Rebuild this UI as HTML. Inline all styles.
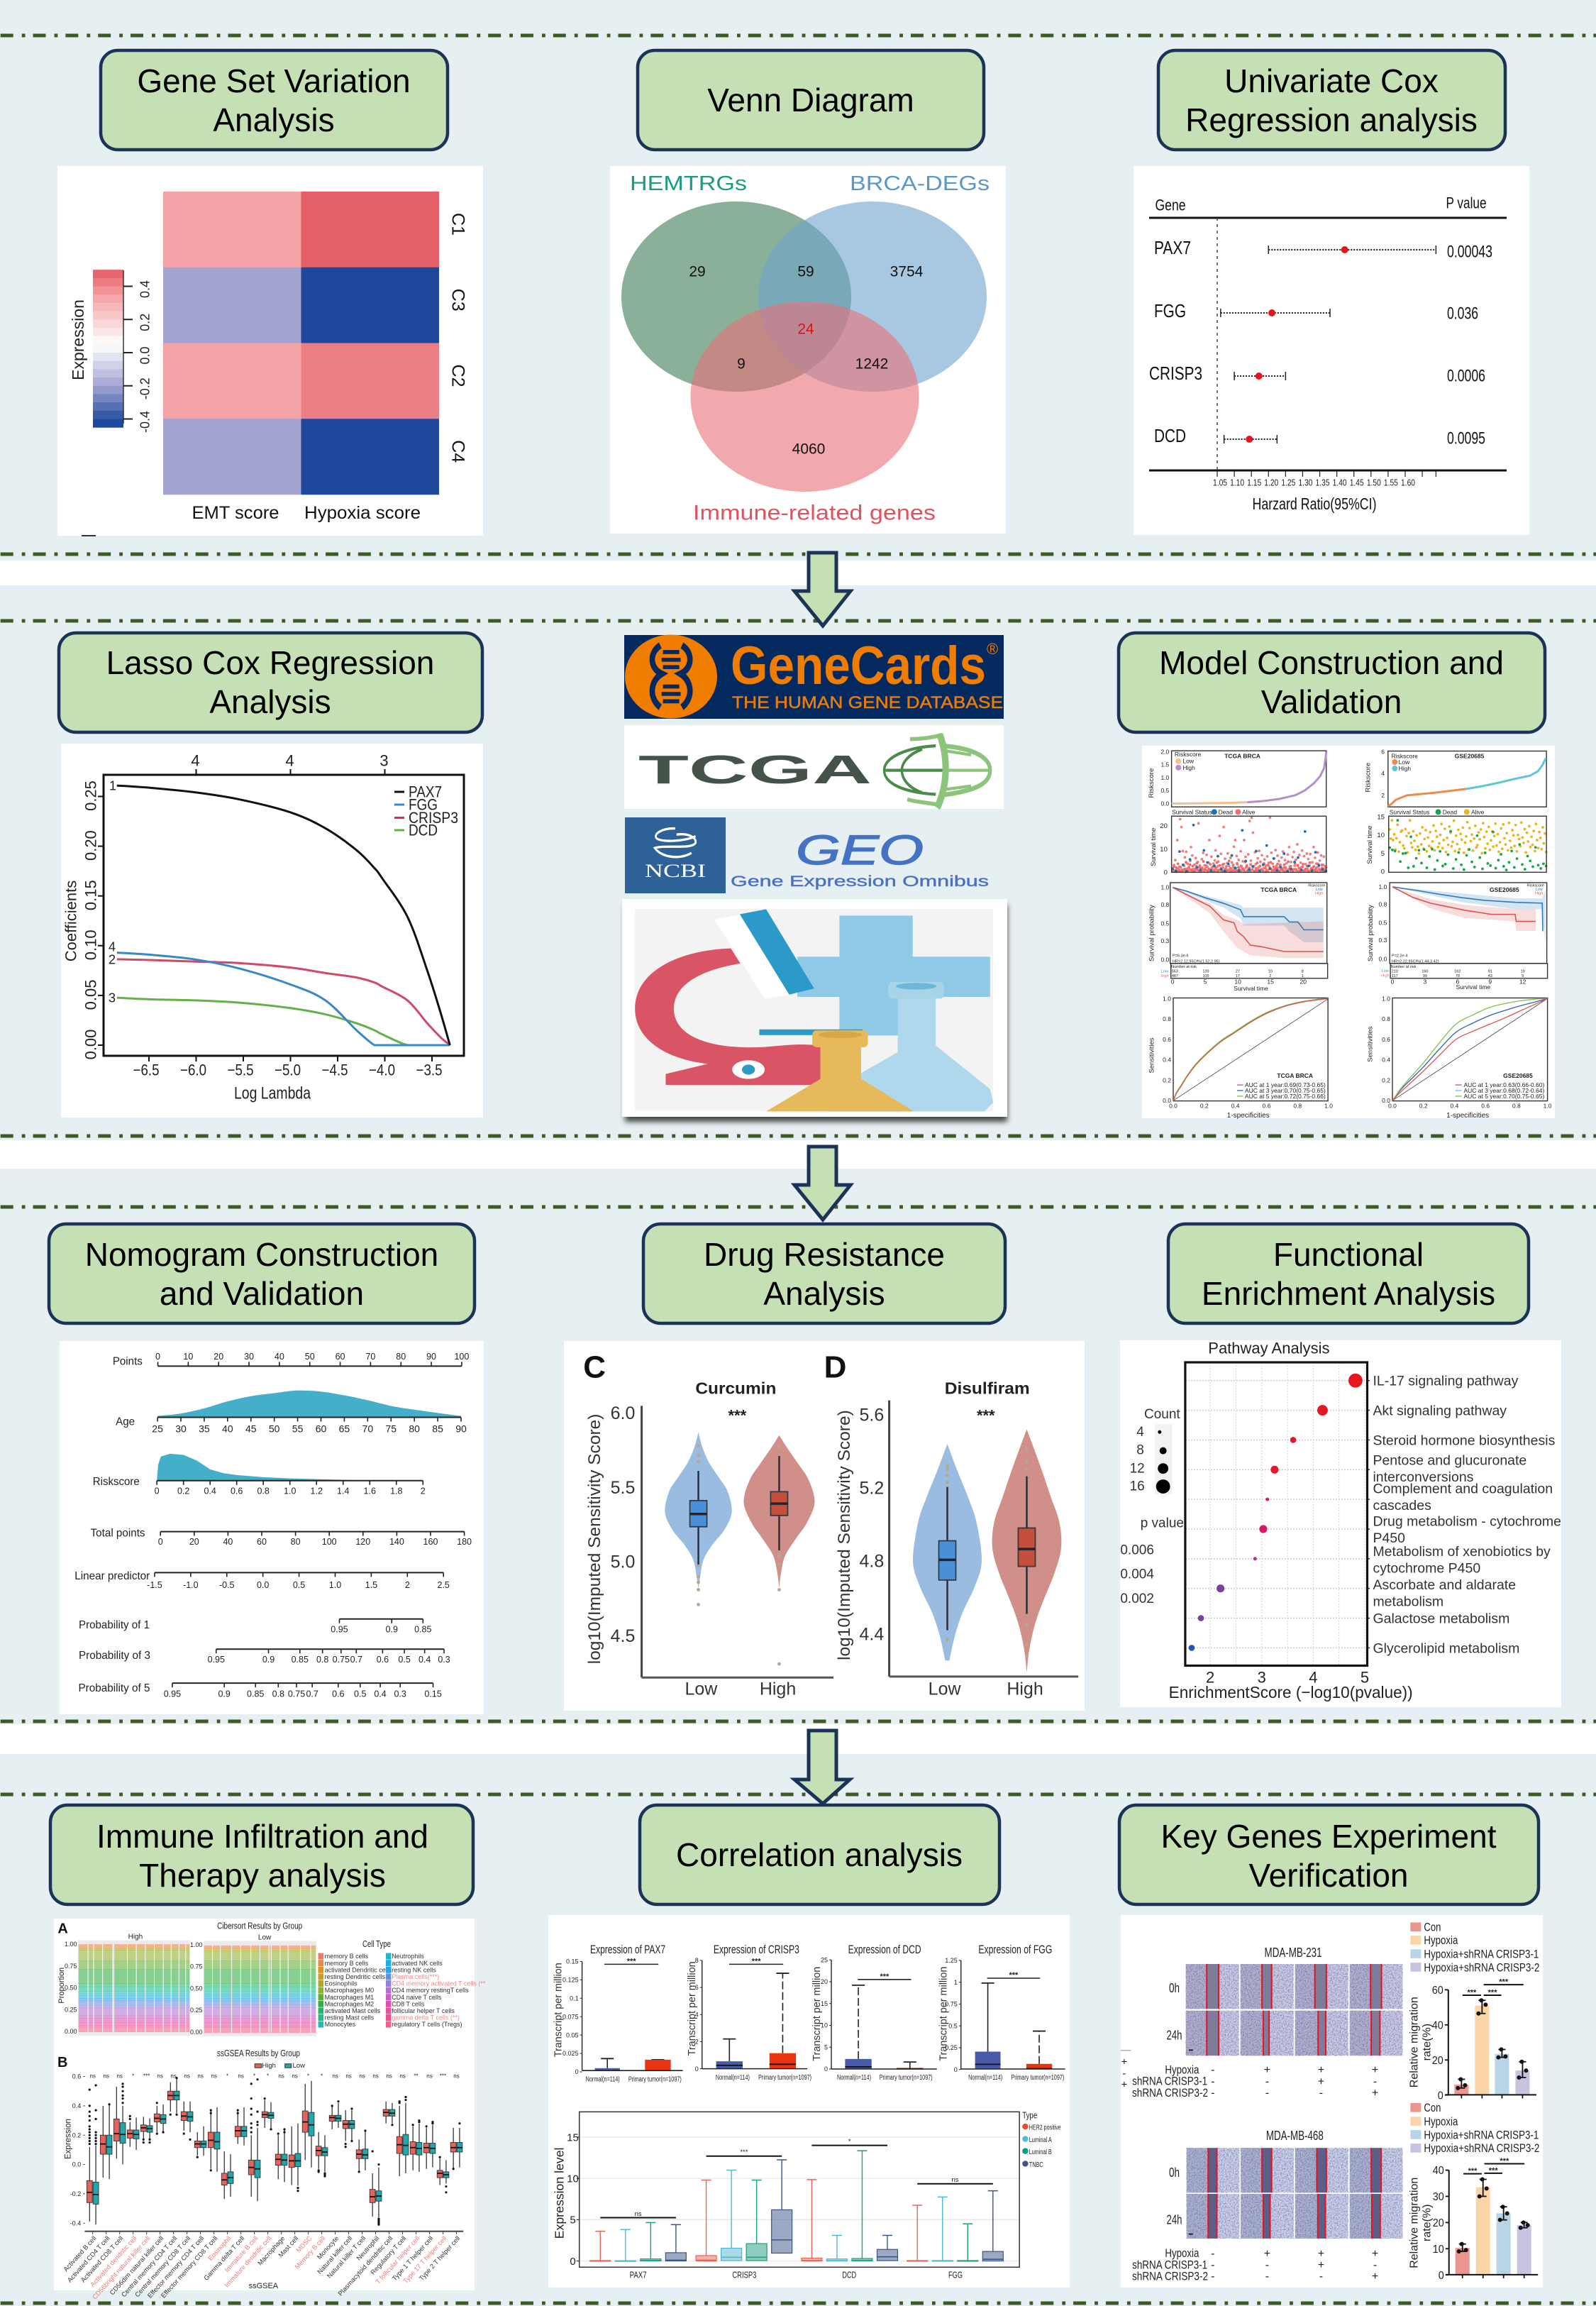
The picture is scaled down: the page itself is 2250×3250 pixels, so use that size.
<!DOCTYPE html>
<html lang="en">
<head>
<meta charset="utf-8">
<title>Study workflow figure</title>
<style>
html,body{margin:0;padding:0;background:#fff;width:2250px;height:3250px;overflow:hidden}
svg{display:block;font-family:"Liberation Sans",sans-serif}
.box{fill:#c5e0b4;stroke:#1b3358;stroke-width:4.5}
.ttl{font-size:46px;text-anchor:middle;fill:#000}
.arrow{fill:#c5e0b4;stroke:#1b3358;stroke-width:5;stroke-linejoin:miter}
.dash{stroke:#3e5a24;stroke-width:5;stroke-dasharray:18 12 4.83 11;stroke-dashoffset:-0.7}
.panel{fill:#fff}
</style>
</head>
<body>
<svg id="figure" xmlns="http://www.w3.org/2000/svg" width="2250" height="3250" viewBox="0 0 2250 3250">
<defs>
<filter id="cells" x="0" y="0" width="1" height="1" color-interpolation-filters="sRGB"><feTurbulence type="fractalNoise" baseFrequency="0.55" numOctaves="2" seed="4"/><feColorMatrix type="matrix" values="0 0 0 0 0.3 0 0 0 0 0.28 0 0 0 0 0.5 1.3 0 0 0 -0.5"/></filter>
<filter id="soft" x="-10%" y="-10%" width="120%" height="120%"><feGaussianBlur stdDeviation="4"/></filter>
</defs>
<rect x="0" y="0" width="2250" height="790" fill="#e6f0f2"/>
<rect x="0" y="825" width="2250" height="782" fill="#e6f0f2"/>
<rect x="0" y="1647" width="2250" height="783" fill="#e6f0f2"/>
<rect x="0" y="2472" width="2250" height="778" fill="#e6f0f2"/>
<line class="dash" x1="0" x2="2250" y1="50" y2="50"/>
<line class="dash" x1="0" x2="2250" y1="781" y2="781"/>
<line class="dash" x1="0" x2="2250" y1="875" y2="875"/>
<line class="dash" x1="0" x2="2250" y1="1601" y2="1601"/>
<line class="dash" x1="0" x2="2250" y1="1701" y2="1701"/>
<line class="dash" x1="0" x2="2250" y1="2426" y2="2426"/>
<line class="dash" x1="0" x2="2250" y1="2529" y2="2529"/>
<line class="dash" x1="0" x2="2250" y1="3246" y2="3246"/>

<path class="arrow" d="M1140 779H1179V833H1199L1160 882L1120 833H1140Z"/>
<path class="arrow" d="M1140 1616H1179V1670H1199L1160 1719L1120 1670H1140Z"/>
<path class="arrow" d="M1140 2439H1179V2508H1198L1160 2542L1120 2508H1140Z"/>

<g><rect class="box" x="142" y="71" width="489" height="140" rx="24"/><text class="ttl" x="386" y="130">Gene Set Variation</text><text class="ttl" x="386" y="185">Analysis</text></g>
<g><rect class="box" x="899" y="71" width="488" height="140" rx="24"/><text class="ttl" x="1143" y="157">Venn Diagram</text></g>
<g><rect class="box" x="1633" y="71" width="489" height="140" rx="24"/><text class="ttl" x="1877" y="130">Univariate Cox</text><text class="ttl" x="1877" y="185">Regression analysis</text></g>
<g><rect class="box" x="83" y="892" width="597" height="140" rx="24"/><text class="ttl" x="381" y="950">Lasso Cox Regression</text><text class="ttl" x="381" y="1005">Analysis</text></g>
<g><rect class="box" x="1577" y="892" width="601" height="140" rx="24"/><text class="ttl" x="1877" y="950">Model Construction and</text><text class="ttl" x="1877" y="1005">Validation</text></g>
<g><rect class="box" x="69" y="1725" width="600" height="140" rx="24"/><text class="ttl" x="369" y="1784">Nomogram Construction</text><text class="ttl" x="369" y="1839">and Validation</text></g>
<g><rect class="box" x="907" y="1725" width="510" height="140" rx="24"/><text class="ttl" x="1162" y="1784">Drug Resistance</text><text class="ttl" x="1162" y="1839">Analysis</text></g>
<g><rect class="box" x="1647" y="1725" width="508" height="140" rx="24"/><text class="ttl" x="1901" y="1784">Functional</text><text class="ttl" x="1901" y="1839">Enrichment Analysis</text></g>
<g><rect class="box" x="71" y="2544" width="596" height="140" rx="24"/><text class="ttl" x="370" y="2604">Immune Infiltration and</text><text class="ttl" x="370" y="2659">Therapy analysis</text></g>
<g><rect class="box" x="902" y="2544" width="507" height="140" rx="24"/><text class="ttl" x="1155" y="2630">Correlation analysis</text></g>
<g><rect class="box" x="1578" y="2544" width="591" height="140" rx="24"/><text class="ttl" x="1873" y="2604">Key Genes Experiment</text><text class="ttl" x="1873" y="2659">Verification</text></g>

<rect class="panel" x="81" y="234" width="600" height="521"/>
<rect class="panel" x="860" y="234" width="558" height="518"/>
<rect class="panel" x="1598" y="234" width="558" height="520"/>
<rect class="panel" x="86" y="1048" width="595" height="527"/>
<rect class="panel" x="1610" y="1051" width="582" height="525"/>
<rect class="panel" x="84" y="1890" width="598" height="526"/>
<rect class="panel" x="795" y="1890" width="734" height="521"/>
<rect class="panel" x="1579" y="1889" width="622" height="517"/>
<rect class="panel" x="76" y="2704" width="593" height="524"/>
<rect class="panel" x="773" y="2699" width="735" height="525"/>
<rect class="panel" x="1580" y="2699" width="595" height="525"/>

<g>
<rect x="880" y="895" width="535" height="118" fill="#03295e"/>
<ellipse cx="946" cy="953.5" rx="65" ry="59" fill="#f07d00"/>
<g transform="translate(860,860) scale(.3827,.4719)" fill="none" stroke="#03295e" stroke-width="20">
<path d="M185 105C140 130 150 175 190 190C150 210 140 260 185 290"/><path d="M265 105C310 130 300 175 260 190C300 210 310 260 265 290"/>
<path stroke-width="12" d="M195 125H255M190 148H260M195 170H255M195 228H255M190 250H260M195 272H255"/></g>
<text x="1030" y="964" font-size="76" font-weight="bold" fill="#f07d00" textLength="360" lengthAdjust="spacingAndGlyphs">GeneCards</text>
<text x="1391" y="922" font-size="22" fill="#f07d00">®</text>
<text x="1032" y="998" font-size="24" fill="#e87c08" stroke="#e87c08" stroke-width=".5" textLength="382" lengthAdjust="spacingAndGlyphs">THE HUMAN GENE DATABASE</text>
</g>
<g>
<rect x="880" y="1022" width="535" height="118" fill="#fff"/>
<text x="900" y="1104" font-size="57" font-weight="bold" fill="#44524a" textLength="329" lengthAdjust="spacingAndGlyphs">TCGA</text>
<g transform="translate(860,860) scale(.3827,.4719)" fill="none" stroke="#4a8a4a" stroke-width="9">
<path d="M1200 405C1090 410 1010 440 1010 478C1010 520 1090 545 1200 550"/><path d="M1150 415C1100 430 1075 455 1075 478C1075 505 1100 530 1150 545"/><path d="M1015 478H1225"/>
<g stroke="#8cc47c"><path d="M1225 405C1340 412 1400 440 1400 478C1400 520 1340 540 1225 552" stroke-width="14"/><path d="M1215 372C1245 440 1245 520 1205 590" stroke-width="24"/><path d="M1105 385C1150 385 1190 380 1225 372M1095 565C1140 575 1180 575 1215 582" stroke-width="12"/><path d="M1225 478H1395M1235 420L1330 432M1235 535L1330 525"/></g></g>
</g>
<g>
<rect x="881" y="1152" width="142" height="107" fill="#2f6199"/>
<g transform="translate(860,860) scale(.3827,.4719)" fill="none" stroke="#fff" stroke-width="7"><path d="M240 652C200 650 160 665 170 680C185 695 280 690 315 675"/><path d="M245 670C290 665 320 680 315 695C300 715 205 700 165 710C190 740 260 745 300 725"/></g>
<text x="909" y="1236" font-size="26" font-family="Liberation Serif" fill="#fff" textLength="86" lengthAdjust="spacingAndGlyphs">NCBI</text>
<text x="1122" y="1218" font-size="58" font-style="italic" fill="#4472c4" stroke="#4472c4" stroke-width="1.4" textLength="180" lengthAdjust="spacingAndGlyphs">GEO</text>
<text x="1030" y="1249" font-size="21" fill="#4a70c4" stroke="#4a70c4" stroke-width=".4" textLength="364" lengthAdjust="spacingAndGlyphs">Gene Expression Omnibus</text>
</g>
<g>
<rect x="881" y="1275" width="539" height="306" fill="#444" filter="url(#soft)"/>
<rect x="877" y="1267" width="543" height="307" fill="#fff"/>
<rect x="895" y="1281" width="505" height="285" fill="#f3f3f3"/>
<g transform="translate(860,860) scale(.3827,.4719)">
<path fill="#8ecae6" d="M845 912H1115V1035H1400V1155H1115V1270H845V1155H690V1035H845Z"/>
<path fill="#fff" d="M385 925L478 908L660 1148L570 1160Z"/>
<path fill="#2b9ac8" d="M478 908L575 893L752 1130L660 1148Z"/>
<path fill="#d95566" d="M445 1010C250 1015 92 1080 92 1190C92 1280 200 1340 360 1355L205 1385V1418H775V1300C650 1290 600 1310 480 1305C330 1300 235 1260 235 1190C235 1120 330 1075 480 1055Z"/>
<ellipse cx="510" cy="1372" rx="60" ry="28" fill="#fff"/><ellipse cx="510" cy="1372" rx="24" ry="15" fill="#2b9ac8"/>
<rect x="550" y="1252" width="380" height="17" fill="#2b9ac8"/>
<path fill="#b0d8ec" d="M1060 1150H1200V1300L1400 1430L1412 1470L1380 1497H800L930 1380L1060 1320Z"/>
<rect x="1025" y="1110" width="205" height="50" rx="14" fill="#a8d4e8"/><ellipse cx="1128" cy="1123" rx="75" ry="10" fill="#6cb8d8"/>
<path fill="#e6b95a" d="M775 1300H925V1400L1120 1497H575L775 1400Z"/>
<rect x="745" y="1255" width="205" height="50" rx="14" fill="#e6b95a"/><ellipse cx="848" cy="1268" rx="80" ry="10" fill="#d8a848"/>
</g></g>

<g id="heatmap"></g>
<g id="venn"></g>
<g id="forest"></g>
<g id="lasso"></g>
<g id="model"></g>
<g id="nomogram"></g>
<g id="violins"></g>
<g id="pathway"></g>
<g id="immune"></g>
<g id="correlation"></g>
<g id="experiment"></g>
</svg>
<script>
/* ===== DATA ===== */
/* GSVA heatmap */
const hmRows=['C1','C3','C2','C4'];
const hmCols=['EMT score','Hypoxia score'];
const hmEmt=[.34,-.2,.34,-.2];
const hmHypoxia=[.49,-.42,.42,-.42];
const hmTicks=[.4,.2,0,-.2,-.4];
/* Venn */
const vennCounts=['29','59','3754','24','9','1242','4060'];
/* Forest */
const fpGenes=['PAX7','FGG','CRISP3','DCD'];
const fpHr=[1.423,1.21,1.172,1.144];
const fpLow=[1.2,1.06,1.1,1.07];
const fpHigh=[1.69,1.38,1.25,1.225];
const fpP=['0.00043','0.036','0.0006','0.0095'];
const fpTicks=[1.05,1.1,1.15,1.2,1.25,1.3,1.35,1.4,1.45,1.5,1.55,1.6];
/* Lasso */
const lassoLambda=[-6.84,-6.46,-6,-5.54,-5,-4.63,-4.3,-4.11,-4.03,-3.76,-3.55,-3.41,-3.31];
const lassoPax7=[.261,.2585,.254,.247,.234,.218,.196,.178,.168,.129,.075,.033,0];
const lassoFgg=[.093,.0907,.086,.077,.061,.045,.015,0,0,0,0,0,0];
const lassoCrisp3=[.0864,.0855,.084,.0825,.078,.0725,.068,.063,.059,.045,.022,.008,0];
const lassoDcd=[.0477,.046,.045,.0427,.0373,.031,.022,.015,.011,0,0,0,0];
const lassoXTicks=[-6.5,-6,-5.5,-5,-4.5,-4,-3.5];
const lassoYTicks=[0,.05,.1,.15,.2,.25];
/* Model: risk curves */
const riskTcgaFrac=[0,.2,.4,.49,.6,.7,.8,.86,.92,.96,.985,.995,1];
const riskTcgaScore=[0,.01,.03,.05,.1,.18,.32,.5,.78,1.05,1.35,1.7,2];
const riskGseFrac=[0,.02,.05,.12,.3,.5,.6,.7,.8,.9,.95,.98,1];
const riskGseScore=[1,1.2,1.6,2,2.25,2.6,2.85,3.15,3.5,3.8,4.2,4.8,5.4];
/* Model: survival status scatter */
const tcgaAlive=[1.2,0.4,3.1,0.8,5.2,2.1,0.3,13.8,1.6,0.7,2.4,22.8,0.5,19.4,1.1,9.1,0.9,2.8,6.4,0.2,8.8,1.5,3.6,0.6,2.2,1.0,4.9,10.8,0.3,7.2,1.4,0.8,3.3,0.5,6.1,2.6,1.2,4.4,21.0,0.7,2.9,1.8,0.4,5.6,1.1,8.3,0.6,3.0,1.7,0.9,7.5,2.3,0.5,4.1,13.8,1.3,0.8,6.7,2.0,0.3,3.7,1.0,5.1,9.4,1.6,0.6,2.5,4.6,0.9,15.6,1.2,7.9,0.4,3.2,2.1,19.4,0.7,5.8,1.5,0.5,3.9,8.1,1.0,2.7,0.6,6.2,1.4,4.2,0.8,2.2,11.0,0.4,13.8,1.7,7.0,3.4,0.7,5.3,1.2,0.5,9.0,2.4,0.9,4.7,1.6,13.8,0.3,6.6,2.0,3.0,0.8,7.7,1.3,22.0,0.6,5.0,23.4,1.1,17.0,2.6,0.4,8.6,3.5,1.4,0.7,6.0,2.1,9.2,0.5,4.5,1.2,7.3,0.9,3.1,1.8,5.5,0.3,2.9,1.0,6.8,0.6,4.0,2.3,23.5,1.5,8.4,0.8,3.6,1.1,5.9,0.4,9.5,2.7,0.7,7.1,1.9,4.8,0.5,3.3,1.3,6.3,0.9,8.9,2.0,0.6,5.2,1.6,3.8,0.3,7.6,1.2,10.8,2.5,0.8,4.4,1.0,6.5,0.4,8.7,2.8,1.4,5.4,0.7,12.0,3.0,0.6,7.4,1.7,4.1,0.9,9.3,2.3,0.5,6.9,1.1,3.5,0.8,8.0,1.5,5.7,0.3,2.9,7.8,1.0,0.6,4.3,2.1,10.8,0.9,6.2,1.3,3.7,0.5,8.5,2.4,1.1,5.0,0.7,7.2,1.8,0.4,3.2,6.7,1.2,2.6,0.6];
const tcgaAliveLow=[0.8,2.2,0.3,1.5,3.4,0.6,1.9,0.2,2.8,1.1,4.1,0.5,1.7,3.0,0.9,2.4,0.4,1.3,3.7,0.7,2.0,0.3,1.6,4.4,1.0,2.6,0.5,1.2,3.2,0.8,2.1,0.2,1.8,3.9,0.6,2.7,1.4,0.4,3.3,1.0,2.3,0.7,4.6,1.5,0.3,2.9,1.1,0.6,3.6,1.9,0.4,2.5,1.3,0.8,4.2,2.2,0.5,1.6,3.1,0.9,2.0,0.3,1.4,3.8,0.7,2.4,1.0,0.5,3.5,1.7,0.2,2.8,1.2,4.0,0.6,2.1,0.9,1.5,3.3,0.4,2.6,1.1,0.7,3.0,1.8,0.3,4.3,1.3,2.3,0.5,1.0,3.6,0.8,2.7,1.6,0.4,2.0,3.2,0.6,1.2,2.5,0.3,3.9,1.4,0.9,2.2,0.5,1.7,3.4,1.0,0.7,2.9,1.3,0.4,1.9];
const tcgaDead=[1.5,0.6,8.9,3.2,0.4,5.5,20.3,2.1,1.0,9.4,4.2,0.7,2.8,6.9,1.3,0.5,3.6,7.2,1.9,0.8,18.0,4.8,1.1,2.5,9.1,0.6,3.3,11.5,1.6,5.9,0.9,2.2,8.0,0.4,1.4,4.4,6.3,1.0,17.5,2.7,0.7,8.6,3.0,1.2,0.5];
const gseAlive=[11.5,9.0,14.0,8.6,10.2,6.0,9.1,12.8,5.4,8.0,10.9,11.2,7.1,6.3,11.6,9.7,5.2,10.5,14.0,7.8,6.6,11.0,8.4,5.9,9.9,6.8,4.9,10.4,7.4,12.1,6.2,8.9,11.3,5.5,9.3,7.0,10.8,6.5,8.2,12.6,5.8,11.1,9.5,6.7,7.7,10.0,13.0,6.4,8.6,11.7,5.3,9.2,7.3,12.3,10.6,6.9,8.1,13.9,5.6,9.8,7.5,11.4,6.1,10.3,8.7,12.0,5.1,7.9,9.6,13.5,6.0,11.9,8.3,10.1,5.7,9.0,12.5,6.6,7.2,10.7,8.8,11.5,5.0,13.2,9.4,6.3,10.9,7.6,12.2,5.9,8.5,11.0,6.8,9.7,13.1,7.1,10.2,5.4,8.0,11.8,6.2,12.9,9.1,7.4,10.5,5.8,13.3,8.4,6.5,11.3,9.9,7.0,12.7,5.5,10.0,8.9,6.9,13.4,9.3,7.8,11.6,5.2,10.6,8.2,12.4,6.7,9.5,7.3,11.1,5.6,13.0,8.6,6.4,10.8,9.2,6.1,12.1,7.7,10.4,5.3];
const gseDead=[6.5,5.9,5.6,14.0,2.7,4.9,5.0,1.0,9.5,1.4,3.6,5.8,2.3,6.0,1.0,4.1,6.1,0.5,3.0,5.5,1.5,2.0,4.6,11.0,0.8,3.3,5.2,1.8,0.5,4.4,6.0,2.6,1.2,9.8,3.8,0.7,5.1,2.2,1.6,10.8,0.9,3.1,4.7,1.4,0.4,2.5,5.6,1.1,3.5,7.4,1.9,0.6,4.2,2.9,1.3,6.6,1.7,0.8,2.1,1.5];
/* Model: Kaplan-Meier [time, survival] */
const kmTcgaLow=[[0,1],[2.1,.95],[5.2,.85],[7.8,.78],[10.4,.69],[10.9,.594],[17.1,.594],[17.9,.52],[19.2,.52],[20.1,.412],[23.1,.412]];
const kmTcgaHigh=[[0,1],[2.6,.88],[5.7,.74],[7.8,.55],[9.4,.51],[9.9,.39],[10.9,.315],[11.9,.2],[13.5,.18],[17.1,.11],[23.1,.11]];
const kmTcgaLowUp=[[0,1],[7.8,.82],[10.4,.76],[10.9,.72],[23.1,.72]];
const kmTcgaLowDn=[[0,1],[7.8,.72],[10.4,.57],[10.9,.47],[17.1,.47],[17.9,.39],[20.1,.24],[23.1,.24]];
const kmTcgaHighUp=[[0,1],[5.7,.78],[7.8,.62],[9.9,.55],[10.9,.49],[23.1,.53]];
const kmTcgaHighDn=[[0,1],[5.7,.64],[7.8,.39],[9.9,.16],[11.9,.06],[17.1,.02],[23.1,.02]];
const kmGseLow=[[0,1],[2.25,.95],[4.1,.903],[6.3,.852],[8.5,.813],[11.3,.786],[13.8,.774],[13.85,.385]];
const kmGseHigh=[[0,1],[1.9,.852],[3.5,.774],[6.6,.677],[9.1,.619],[11.3,.619],[11.4,.521],[13.2,.521]];
const kmGseLowUp=[[0,1],[6.3,.91],[11.3,.84],[13.8,.84],[14.1,.96]];
const kmGseLowDn=[[0,1],[6.3,.79],[11.3,.69],[13.8,.69],[14.1,.19]];
const kmGseHighUp=[[0,1],[3.5,.83],[6.6,.75],[11.3,.69],[13.2,.69]];
const kmGseHighDn=[[0,1],[3.5,.70],[6.6,.57],[11.3,.52],[11.4,.39],[13.2,.39]];
const kmTableTcga=[['563','139','27','10','8'],['487','105','17','2','1']];
const kmTableGse=[['210','160','162','91','19'],['117','99','78','43','9']];
/* Model: ROC */
const rocTcgaFpr=[0,.02,.05,.1,.17,.3,.39,.5,.61,.72,.83,.92,1];
const rocTcga1=[0,.07,.14,.26,.39,.57,.66,.77,.86,.925,.965,.985,1];
const rocTcga3=[0,.075,.145,.265,.395,.575,.665,.775,.865,.93,.97,.99,1];
const rocTcga5=[0,.08,.15,.27,.40,.58,.67,.78,.87,.93,.97,.99,1];
const rocGseFpr=[0,.05,.1,.2,.3,.41,.52,.63,.74,.84,.93,1];
const rocGse1=[0,.08,.15,.29,.44,.60,.68,.75,.82,.89,.95,1];
const rocGse3=[0,.1,.18,.33,.5,.67,.76,.835,.89,.935,.97,1];
const rocGse5=[0,.11,.2,.37,.56,.75,.84,.915,.955,.98,.995,1];
const rocAucTcga=['AUC at 1 year:0.69(0.73-0.65)','AUC at 3 year:0.70(0.75-0.65)','AUC at 5 year:0.72(0.75-0.66)'];
const rocAucGse=['AUC at 1 year:0.63(0.66-0.60)','AUC at 3 year:0.68(0.72-0.64)','AUC at 5 year:0.70(0.75-0.65)'];
/* Nomogram */
const nomoPoints=[0,10,20,30,40,50,60,70,80,90,100];
const nomoAge=[25,30,35,40,45,50,55,60,65,70,75,80,85,90];
const nomoAgeDensity=[.05,.14,.33,.59,.78,.89,.99,.95,.81,.63,.42,.28,.16,.05];
const nomoRiskTicks=[0,.2,.4,.6,.8,1,1.2,1.4,1.6,1.8,2];
const nomoRiskTickLabels=['0','0.2','0.4','0.6','0.8','1.0','1.2','1.4','1.6','1.8','2'];
const nomoRiskValues=[0,.01,.03,.1,.2,.3,.4,.5,.6,.8,1,1.2,1.4,1.6,2];
const nomoRiskDensity=[0,.6,.9,1,.96,.75,.42,.28,.21,.13,.085,.057,.03,.01,0];
const nomoTotal=[0,20,40,60,80,100,120,140,160,180];
const nomoLinear=[-1.5,-1,-.5,0,.5,1,1.5,2,2.5];
const nomoLinearLabels=['-1.5','-1.0','-0.5','0.0','0.5','1.0','1.5','2','2.5'];
const nomoProb1Points=[106,137,155.5];
const nomoProb1Labels=['0.95','0.9','0.85'];
const nomoProb3Points=[33,64,82.6,96,107,116,131.6,144.5,156.5,168];
const nomoProb3Labels=['0.95','0.9','0.85','0.8','0.75','0.7','0.6','0.5','0.4','0.3'];
const nomoProb5Points=[7,37.8,56.3,69.8,80.6,89.9,105.3,118.3,130.2,142,161.5];
const nomoProb5Labels=['0.95','0.9','0.85','0.8','0.75','0.7','0.6','0.5','0.4','0.3','0.15'];
/* Violins */
const curLowV=[5.87,5.77,5.67,5.57,5.47,5.33,5.21,5.11,5.01,4.89,4.82];
const curLowD=[0,.12,.31,.6,.88,1,.77,.41,.15,.05,0];
const curHighV=[5.85,5.76,5.66,5.55,5.40,5.26,5.16,5.04,4.92,4.82];
const curHighD=[0,.24,.53,.83,1,.78,.49,.17,.05,0];
const curLowBox=[4.98,5.234,5.32,5.41,5.61];
const curHighBox=[5.075,5.31,5.39,5.47,5.71];
const curLowOut=[5.78,5.715,5.67,4.97,4.9,4.86,4.81,4.71];
const curHighOut=[5.77,5.04,4.98,4.81,4.31];
const disLowV=[5.44,5.29,5.15,5.01,4.8,4.66,4.52,4.39,4.254];
const disLowD=[0,.3,.6,.85,1,.8,.45,.22,.06];
const disHighV=[5.52,5.43,5.29,5.15,5.01,4.87,4.73,4.59,4.46,4.32,4.19];
const disHighD=[0,.18,.45,.7,.95,1,.8,.5,.25,.08,0];
const disLowBox=[4.42,4.695,4.806,4.91,5.205];
const disHighBox=[4.51,4.77,4.865,4.98,5.263];
const disLowOut=[5.32,5.3,5.27,5.23,4.37];
const disHighOut=[5.41,5.34,5.3,4.45,4.34,4.28];
const curTicks=['6.0','5.5','5.0','4.5'];
const disTicks=['5.6','5.2','4.8','4.4'];
/* Pathway dots */
const pwLabels=[['IL-17 signaling pathway'],['Akt signaling pathway'],['Steroid hormone biosynthesis'],['Pentose and glucuronate','interconversions'],['Complement and coagulation','cascades'],['Drug metabolism - cytochrome','P450'],['Metabolism of xenobiotics by','cytochrome P450'],['Ascorbate and aldarate','metabolism'],['Galactose metabolism'],['Glycerolipid metabolism']];
const pwScore=[4.82,4.18,3.61,3.25,3.11,3.03,2.87,2.2,1.82,1.64];
const pwCount=[16,12,7,9,4,9,4,9,7,7];
const pwXTicks=[2,3,4,5];
const pwLegendCounts=[4,8,12,16];
const pwLegendP=['0.006','0.004','0.002'];
/* CIBERSORT stacks */
const cellTypes=['memory B cells','memory B cells','activated Dendritic cells','resting Dendritic cells','Eosinophils','Macrophages M0','Macrophages M1','Macrophages M2','activated Mast cells','resting Mast cells','Monocytes','Neutrophils','activated NK cells','resting NK cells','Plasma cells(***)','CD4 memory activated T cells (**','CD4 memory restingT cells','CD4 naive T cells','CD8 T cells','follicular helper T cells','gamma delta T cells (**)','regulatory T cells (Tregs)'];
const cellHighlighted=[14,15,20];
const cellColors=['#f07a6a','#e88a40','#dd9420','#c8a020','#b0aa20','#90b030','#60b030','#30b040','#20b868','#20bc90','#20bcae','#22b8c8','#20b0e0','#30a0e8','#6090e0','#9080d8','#b070d0','#cc60c0','#dc50b0','#e850a0','#f05090','#f06088'];
const propHigh=[.015,.015,.01,.015,.01,.12,.1,.16,.04,.05,.03,.02,.03,.03,.05,.03,.09,.03,.05,.03,.02,.055];
const propLow=[.015,.015,.01,.015,.01,.11,.1,.165,.04,.05,.03,.02,.03,.03,.045,.03,.095,.03,.05,.035,.02,.06];
const sampleGapsHigh=[.09,.14,.22,.31,.32,.44,.52,.6,.68,.76,.83,.9,.96];
const sampleGapsLow=[.08,.15,.25,.33,.42,.5,.58,.6,.68,.75,.86,.95];
const propTicks=['1.00','0.75','0.50','0.25','0.00'];
/* ssGSEA */
const ssCats=['Activated B cell','Activated CD4 T cell','Activated CD8 T cell','Activated dendritic cell','CD56bright natural killer cell','CD56dim natural killer cell','Central memory CD4 T cell','Central memory CD8 T cell','Effector memory CD4 T cell','Effector memory CD8 T cell','Eosinophil','Gamma delta T cell','Immature  B cell','Immature dendritic cell','Macrophage','Mast cell','MDSC','Memory B cell','Monocyte','Natural killer cell','Natural killer T cell','Neutrophil','Plasmacytoid dendritic cell','Regulatory T cell','T follicular helper cell','Type 1 T helper cell','Type 17 T helper cell','Type 2 T helper cell'];
const ssSig=['ns','ns','ns','*','***','ns','ns','ns','ns','ns','*','ns','*','*','ns','ns','*','*','ns','ns','ns','ns','ns','ns','**','ns','***','ns'];
const ssRed=[3,4,10,12,13,16,17,24,26];
const ssHigh=[[-.39,-.26,-.19,-.11,.12],[-.09,.07,.14,.2,.4],[.04,.16,.21,.31,.53],[.12,.18,.21,.235,.29],[.17,.225,.25,.27,.325],[.22,.29,.315,.345,.4],[.36,.44,.47,.5,.56],[.23,.3,.33,.36,.43],[.06,.115,.14,.16,.22],[-.03,.115,.165,.22,.37],[-.235,-.14,-.105,-.06,.09],[.14,.19,.23,.26,.36],[-.22,-.07,-.02,.03,.2],[.25,.32,.34,.36,.44],[-.1,-.005,.035,.07,.2],[-.14,-.02,.025,.065,.26],[.03,.22,.29,.365,.55],[-.03,.06,.095,.125,.22],[.24,.295,.32,.335,.4],[.16,.245,.275,.3,.37],[-.05,.04,.07,.1,.17],[-.355,-.26,-.22,-.17,-.06],[.28,.33,.355,.375,.43],[-.08,.075,.135,.19,.4],[-.04,.07,.115,.155,.26],[-.03,.08,.115,.145,.25],[-.14,-.09,-.06,-.04,.04],[-.03,.085,.115,.15,.25]];
const ssLow=[[-.41,-.27,-.205,-.12,.13],[-.1,.07,.12,.2,.41],[0,.145,.205,.285,.4],[.1,.175,.205,.235,.32],[.17,.22,.245,.265,.315],[.22,.28,.31,.34,.41],[.35,.44,.47,.5,.59],[.22,.295,.325,.36,.43],[.06,.115,.14,.16,.26],[-.05,.105,.155,.22,.39],[-.22,-.13,-.09,-.05,.07],[.13,.19,.23,.26,.39],[-.25,-.09,-.03,.03,.25],[.24,.315,.335,.355,.425],[-.12,-.005,.03,.07,.24],[-.145,-.015,.025,.075,.28],[-.02,.195,.27,.355,.57],[-.05,.06,.085,.115,.2],[.25,.295,.315,.335,.42],[.165,.245,.275,.3,.37],[-.04,.04,.065,.105,.23],[-.36,-.25,-.215,-.18,-.02],[.28,.33,.35,.375,.42],[-.06,.065,.13,.205,.42],[-.05,.065,.11,.15,.28],[-.02,.075,.11,.145,.27],[-.13,-.09,-.07,-.05,.03],[-.02,.085,.115,.15,.25]];
const ssOutHigh=[[.14,.16,.18,.2,.22,.24,.26,.3,.33,.36,.4,.51],[],[],[.31,.33],[.15,.17],[.21,.42],[.34],[.21],[.05],[-.04,.35,.37],[],[.37,.35],[.22,.25,.28,.34,.38,.45,.55],[.45],[.21],[],[],[-.04,-.05],[.4],[.12,.14],[-.05],[.09],[],[.42,.43],[.27],[.26],[.05],[-.03]];
const ssOutLow=[[.14,.16,.18,.2,.22,.31,.37,.54],[.41],[.42,.45,.47,.5,.53,.55],[],[.15,.17],[.22],[.34,.59],[.17],[],[],[],[],[.27,.29,.36,.58],[.24],[.24,.22],[-.16,-.18],[],[-.06,-.07,-.08],[.43],[.16,.38],[.23],[-.37,-.38,-.39,-.4,-.41,0],[.27],[.44,.46],[.3,.29],[.28,.29],[-.15,-.19],[.28]];
const ssYTicks=[.6,.4,.2,0,-.2,-.4];
/* TPM boxes: [q1, median, q3, whisker] */
const tpmNormal=[[0,0,.005,.018],[.05,.25,.55,2.2],[0,.5,2.3,19.2],[0,.06,.205,.99]];
const tpmTumor=[[0,0,.0165,.0165],[0,.33,1.15,7.05],[0,.05,.15,1.6],[0,.01,.065,.44]];
const tpmTitles=['Expression of PAX7','Expression of CRISP3','Expression of DCD','Expression of FGG'];
const tpmTickValues=[[0,.025,.05,.075,.1,.125,.15],[0,2,4,6,8],[0,5,10,15,20,25],[0,.25,.5,.75,1,1.25]];
/* Subtype boxes */
const subGenes=['PAX7','CRISP3','DCD','FGG'];
const subTypes=['HER2 positive','Luminal A','Luminal B','TNBC'];
const subPax7=[[0,0,.05,3.6],[0,0,.03,3.8],[0,.05,.25,4.65],[0,.1,1,4.4]];
const subCrisp3=[[0,.1,.65,9.8],[.05,.45,1.55,11],[.05,.45,2.1,9.8],[.95,2.55,6.2,12.25]];
const subDcd=[[0,.05,.35,9.85],[0,.02,.25,3.1],[0,.05,.3,13.35],[.05,.5,1.4,3.1]];
const subFgg=[[0,.02,.05,6.75],[0,.02,.05,7.75],[0,.02,.05,4.5],[0,.2,1.15,8.5]];
const subSig=['ns','***','*','ns'];
const subBracket=[5.25,12.7,14,9.35];
const subYTicks=[0,5,10,15];
/* Migration */
const migGroups=['Con','Hypoxia','Hypoxia+shRNA CRISP3-1','Hypoxia+shRNA CRISP3-2'];
const mig231Mean=[6,51,23.5,14];
const mig231Points=[[9,5.6,4],[54,51.5,46.5],[26,22,21.5],[19,14,10]];
const mig468Mean=[10.3,33.5,23.5,19];
const mig468Points=[[11.8,9.5,9],[36.5,33,30],[26,23.5,21],[20,19,18]];
const migHypoxia=['-','+','+','+'];
const migSh1=['-','-','+','-'];
const migSh2=['-','-','-','+'];
const wound231=[[[39.4,61.8],[40.6,58.8],[37.3,59],[39.4,60]],[[39.4,61.8],[43,54],[43.4,57.8],[40.6,57]]];
const wound468=[[[40.9,57.3],[40,58.2],[41,59],[40.6,59.4]],[[40.9,57.3],[42.4,55.2],[42.8,57.2],[41.8,57.6]]];

/* ===== HELPERS ===== */
const NS='http://www.w3.org/2000/svg';
const $=id=>document.getElementById(id);
function E(p,tag,a,name){
  const e=document.createElementNS(NS,tag);
  for(const k in a)e.setAttribute(k,a[k]);
  
  
  p.appendChild(e);
  return e;
}
function T(p,x,y,s,size,o={}){
  const a={x:x,y:y,'font-size':size,'text-anchor':o.a||'middle',fill:o.c||'#222'};
  if(!o.base)a.dy='.35em';
  if(o.b)a['font-weight']='bold';
  if(o.rot)a.transform='rotate('+o.rot+' '+x+' '+y+')';
  if(o.w){a.textLength=o.w;a.lengthAdjust='spacingAndGlyphs';}
  const e=E(p,'text',a,o.n||'label');
  e.textContent=s;
  return e;
}
function L(p,x1,y1,x2,y2,c,w,n,dash){
  const a={x1:x1,y1:y1,x2:x2,y2:y2,stroke:c,'stroke-width':w};
  if(dash)a['stroke-dasharray']=dash;
  return E(p,'line',a,n||'line');
}
function R(p,x,y,w,h,fill,n,extra){
  const a=Object.assign({x:x,y:y,width:w,height:h,fill:fill},extra||{});
  return E(p,'rect',a,n||'rect');
}
const lin=(d0,d1,r0,r1)=>v=>r0+(v-d0)*(r1-r0)/(d1-d0);
const Z=(xo,xf,yo,yf)=>({x:v=>xo+v/xf,y:v=>yo+v/yf});
function polyD(pts){return pts.map((q,i)=>(i?'L':'M')+q[0].toFixed(2)+' '+q[1].toFixed(2)).join('');}
function smoothD(pts,start){
  let d=start?'':'M'+pts[0][0].toFixed(2)+' '+pts[0][1].toFixed(2);
  for(let i=0;i<pts.length-1;i++){
    const p0=pts[Math.max(0,i-1)],p1=pts[i],p2=pts[i+1],p3=pts[Math.min(pts.length-1,i+2)];
    const c1=[p1[0]+(p2[0]-p0[0])/6,p1[1]+(p2[1]-p0[1])/6],c2=[p2[0]-(p3[0]-p1[0])/6,p2[1]-(p3[1]-p1[1])/6];
    const lo=Math.min(p1[1],p2[1]),hi=Math.max(p1[1],p2[1]);
    c1[1]=Math.min(hi,Math.max(lo,c1[1]));
    c2[1]=Math.min(hi,Math.max(lo,c2[1]));
    d+='C'+c1[0].toFixed(2)+' '+c1[1].toFixed(2)+' '+c2[0].toFixed(2)+' '+c2[1].toFixed(2)+' '+p2[0].toFixed(2)+' '+p2[1].toFixed(2);
  }
  return d;
}
function hex(c){return [1,3,5].map(i=>parseInt(c.substr(i,2),16));}
function ramp(vals,cols){return v=>{
  if(v<=vals[0])return cols[0];
  for(let i=1;i<vals.length;i++){if(v<=vals[i]){
    const t=(v-vals[i-1])/(vals[i]-vals[i-1]),a=hex(cols[i-1]),b=hex(cols[i]);
    return 'rgb('+a.map((x,k)=>Math.round(x+(b[k]-x)*t)).join(',')+')';}}
  return cols[cols.length-1];};}

/* ===== HEATMAP ===== */
(function(){
  const g=$('heatmap');
  const color=ramp([-.42,-.2,.05,.34,.5],['#1e489c','#a3a4d2','#ffffff','#f4a3a6','#e45a62']);
  const rowY=i=>270+i*106.75, colX=j=>230+j*194.5;
  hmRows.forEach((r,i)=>{
    [hmEmt,hmHypoxia].forEach((col,j)=>{
      R(g,colX(j),rowY(i),194.5,107,color(col[i]),'heatmap-cell-'+r+'-'+j);
    });
    T(g,646,rowY(i)+46,r,25,{rot:90,n:'row-label-'+r,c:'#111'});
  });
  T(g,332,722,hmCols[0],25,{w:123,n:'column-label-emt',c:'#111'});
  T(g,511,722,hmCols[1],25,{w:164,n:'column-label-hypoxia',c:'#111'});
  const y=lin(0,.2,497,450.25);
  for(let v=.5;v>-.43;v-=.05){
    R(g,131,y(v),43,y(v-.05)-y(v)+.5,color(v-.025),'colorbar-step');
  }
  L(g,174,381,174,597,'#333',1.5,'colorbar-axis');
  hmTicks.forEach(v=>{
    L(g,174,y(v),187,y(v),'#222',2,'colorbar-tick');
    T(g,204,y(v)+4,v.toFixed(1),18,{rot:-90,n:'colorbar-tick-label'});
  });
  T(g,110,479,'Expression',23,{rot:-90,n:'colorbar-title'});
  R(g,115,754,20,2,'#333','stray-mark');
})();

/* ===== VENN ===== */
(function(){
  const g=$('venn');
  E(g,'ellipse',{cx:1038,cy:418,rx:162,ry:134,fill:'rgb(60,123,87)','fill-opacity':.6},'venn-circle-hemtrgs');
  E(g,'ellipse',{cx:1230,cy:418,rx:161,ry:134,fill:'rgb(110,163,207)','fill-opacity':.6},'venn-circle-brca-degs');
  E(g,'ellipse',{cx:1134.5,cy:559,rx:161,ry:134,fill:'rgb(233,112,120)','fill-opacity':.6},'venn-circle-immune');
  T(g,888,258,'HEMTRGs',29,{a:'start',c:'#1f9a80',n:'venn-label-hemtrgs',w:165});
  T(g,1395,258,'BRCA-DEGs',29,{a:'end',c:'#5b97c8',n:'venn-label-brca',w:197});
  T(g,1148,722,'Immune-related genes',30,{c:'#e0525f',n:'venn-label-immune',w:342});
  const at=[[983,382],[1136,382],[1278,382],[1136,463],[1045,512],[1229,512],[1140,632]];
  vennCounts.forEach((c,i)=>T(g,at[i][0],at[i][1],c,21,{c:c==='24'?'#e01020':'#111',n:'venn-count-'+c}));
})();

/* ===== FOREST ===== */
(function(){
  const g=$('forest');
  const x=lin(1.05,1.6,1716,1981);
  const ys=[352,441,530,619], labY=[349,438,526,614], pY=[354,441,529,617], wid=[52,45,75,45], pw=[64,44,54,54];
  L(g,1620,307,2124,307,'#111',3,'forest-top-rule');
  L(g,1620,663,2124,663,'#111',3,'forest-bottom-rule');
  L(g,x(1.05),307,x(1.05),663,'#444',1.5,'forest-reference-line','4 5');
  T(g,1650,289,'Gene',22,{w:43,n:'forest-gene-header',c:'#111'});
  T(g,2067,286,'P value',22,{w:57,n:'forest-p-header',c:'#111'});
  fpGenes.forEach((n,i)=>{
    T(g,n==='CRISP3'?1620:1627,labY[i],n,26,{a:'start',w:wid[i],n:'forest-gene-'+n,c:'#111'});
    L(g,x(fpLow[i]),ys[i],x(fpHigh[i]),ys[i],'#222',2,'forest-ci-'+n,'2 2');
    L(g,x(fpLow[i]),ys[i]-6,x(fpLow[i]),ys[i]+6,'#222',1.5,'forest-ci-cap');
    L(g,x(fpHigh[i]),ys[i]-6,x(fpHigh[i]),ys[i]+6,'#222',1.5,'forest-ci-cap');
    E(g,'circle',{cx:x(fpHr[i]),cy:ys[i],r:5,fill:'#e8141c'},'forest-point-'+n);
    T(g,2040,pY[i],fpP[i],24,{a:'start',w:pw[i],n:'forest-p-'+n,c:'#111'});
  });
  fpTicks.forEach(v=>{
    L(g,x(v),663,x(v),672,'#222',1.2,'forest-tick');
    T(g,x(v)+4,680,v.toFixed(2),13,{w:20,n:'forest-tick-label'});
  });
  [1.65,1.69].forEach(v=>L(g,x(v),663,x(v),672,'#222',1.2,'forest-tick'));
  T(g,1853,710,'Harzard Ratio(95%CI)',23,{w:175,n:'forest-x-title',c:'#111'});
})();

/* ===== LASSO ===== */
(function(){
  const g=$('lasso');
  const x=lin(-6.5,-3.5,210,609), y=lin(0,.25,1473,1122.5);
  const series=[[lassoDcd,'#66b04a','DCD'],[lassoCrisp3,'#cf4a6a','CRISP3'],[lassoFgg,'#3a86c8','FGG'],[lassoPax7,'#111','PAX7']];
  series.forEach(s=>{
    const pts=lassoLambda.map((l,i)=>[x(l),y(s[0][i])]);
    E(g,'path',{d:smoothD(pts),fill:'none',stroke:s[1],'stroke-width':3},'lasso-curve-'+s[2]);
  });
  E(g,'rect',{x:146,y:1092,width:508,height:396,fill:'none',stroke:'#111','stroke-width':3},'lasso-plot-box');
  lassoXTicks.forEach(v=>{
    L(g,x(v),1488,x(v),1496,'#111',2,'lasso-x-tick');
    T(g,x(v)-4,1508,v<0?('\u2212'+Math.abs(v).toFixed(1)):v,22,{w:37,n:'lasso-x-label'});
  });
  lassoYTicks.forEach(v=>{
    L(g,138,y(v),146,y(v),'#111',2,'lasso-y-tick');
    T(g,128,y(v)-1,v.toFixed(2),22,{rot:-90,n:'lasso-y-label'});
  });
  [[-6,'4'],[-5,'4'],[-4,'3']].forEach(t=>{
    L(g,x(t[0]),1084,x(t[0]),1092,'#111',2,'lasso-top-tick');
    T(g,x(t[0])-1,1072,t[1],22,{n:'lasso-top-label'});
  });
  [[159,1107,'1'],[158,1334,'4'],[158,1352,'2'],[158,1406,'3']].forEach(t=>T(g,t[0],t[1],t[2],18,{n:'lasso-curve-number'}));
  T(g,100,1298,'Coefficients',22,{rot:-90,n:'lasso-y-title'});
  T(g,384,1540,'Log Lambda',24,{w:108,n:'lasso-x-title'});
  [['PAX7',1116,47,'#111'],['FGG',1134,41,'#3a86c8'],['CRISP3',1152.5,70,'#d8304a'],['DCD',1170,41,'#63b044']].forEach(t=>{
    L(g,556,t[1],570,t[1],t[3],3,'lasso-legend-line-'+t[0]);
    T(g,576,t[1],t[0],22,{a:'start',w:t[2],n:'lasso-legend-'+t[0]});
  });
})();

/* ===== MODEL ===== */
(function(){
  const g=$('model');
  const M=Z(1500,2.0907,1000,2.529);
  const F=8.5;
  const box=(a,b,c,d,n)=>E(g,'rect',{x:M.x(a),y:M.y(c),width:M.x(b)-M.x(a),height:M.y(d)-M.y(c),fill:'none',stroke:'#333','stroke-width':1.4},n);
  function risk(x0,x1,yf,frac,score,split,lc,hc,ticks,tx){
    const X=lin(0,1,M.x(x0),M.x(x1)),pts=frac.map((f,i)=>[X(f),M.y(yf(score[i]))]);
    const k=frac.findIndex(f=>f>=split);
    E(g,'path',{d:polyD(pts.slice(0,k+1)),fill:'none',stroke:lc,'stroke-width':3},'risk-curve-low');
    E(g,'path',{d:polyD(pts.slice(k)),fill:'none',stroke:hc,'stroke-width':3},'risk-curve-high');
    ticks.forEach(t=>T(g,M.x(tx),M.y(yf(t)),t.toFixed(t%1||ticks.length>3?1:0),F,{a:'end',n:'risk-y-label'}));
  }
  function scatter(x0,x1,yf,arr,col,n){
    const X=lin(0,arr.length-1,M.x(x0+3),M.x(x1-1));
    arr.forEach((t,i)=>E(g,'circle',{cx:X(i),cy:M.y(yf(t)),r:1.9,fill:col},n));
  }
  function km(tf,sf,up,dn,line,col,n){
    const map=a=>a.map(q=>[M.x(tf(q[0])),M.y(sf(q[1]))]);
    E(g,'path',{d:polyD(map(up).concat(map(dn).reverse()))+'Z',fill:col,'fill-opacity':.2},'km-ci-'+n);
    E(g,'path',{d:polyD(map(line)),fill:'none',stroke:col,'stroke-width':1.6},'km-curve-'+n);
  }
  function roc(x0,x1,fpr,s,cols){
    const X=lin(0,1,M.x(x0),M.x(x1)),Y=lin(0,1,M.y(1394),M.y(1030));
    L(g,X(0),Y(0),X(1),Y(1),'#444',.8,'roc-diagonal');
    s.forEach((c,k)=>E(g,'path',{d:smoothD(fpr.map((f,i)=>[X(f),Y(c[i])])),fill:'none',stroke:cols[k],'stroke-width':1.3},'roc-curve-'+k));
    [0,.2,.4,.6,.8,1].forEach(v=>{
      T(g,X(v),M.y(1412),v.toFixed(1),F,{n:'roc-x-label'});
      T(g,X(0)-3,Y(v),v.toFixed(1),F,{a:'end',n:'roc-y-label'});
    });
  }
  /* left column */
  box(317,773,147,347,'risk-box-tcga');
  risk(317,773,lin(0,2,335,150),riskTcgaFrac,riskTcgaScore,.49,'#f2c08e','#b48fc8',[2,1.5,1,.5,0],310);
  T(g,M.x(326),M.y(160),'Riskscore',F,{a:'start',n:'risk-legend-title'});
  T(g,M.x(526),M.y(166),'TCGA BRCA',8.5,{b:1,n:'risk-title-tcga'});
  [[184,'#f6c08c','Low'],[207,'#b48fc8','High']].forEach(t=>{E(g,'circle',{cx:M.x(337),cy:M.y(t[0]),r:4,fill:t[1]},'risk-legend-dot');T(g,M.x(350),M.y(t[0]),t[2],F,{a:'start',n:'risk-legend-label'});});
  T(g,M.x(257),M.y(262),'Riskscore',9.5,{rot:-90,n:'risk-y-title'});
  T(g,M.x(318),M.y(365),'Survival Status',F,{a:'start',n:'status-legend-title'});
  [[443,455,'#1a6fb5','Dead'],[513,525,'#f07070','Alive']].forEach(t=>{E(g,'circle',{cx:M.x(t[0]),cy:M.y(365),r:4,fill:t[2]},'status-legend-dot');T(g,M.x(t[1]),M.y(365),t[3],F,{a:'start',n:'status-legend-label'});});
  const yt=lin(0,10,580,497);
  scatter(317,773,yt,tcgaAlive,'#f08080','status-point-alive');
  scatter(317,773,lin(0,10,578,495),tcgaAliveLow,'#f06a6a','status-point-alive');
  scatter(317,773,yt,tcgaDead,'#1a6fb5','status-point-dead');
  box(317,773,380,580,'status-box-tcga');
  [20,10,0].forEach(t=>T(g,M.x(305),M.y(yt(t)),t,F+1,{a:'end',n:'status-y-label'}));
  T(g,M.x(263),M.y(490),'Survival time',9.5,{rot:-90,n:'status-y-title'});
  const tA=lin(0,5,320,416.25),sA=lin(0,1,891,634);
  km(tA,sA,kmTcgaLowUp,kmTcgaLowDn,kmTcgaLow,'#2f7ab8','low-tcga');
  km(tA,sA,kmTcgaHighUp,kmTcgaHighDn,kmTcgaHigh,'#d9534f','high-tcga');
  box(313,775,617,905,'km-box-tcga');
  [[1,'1.0'],[.76,'0.8'],[.5,'0.5'],[.26,'0.3'],[0,'0.0']].forEach(t=>T(g,M.x(310),M.y(sA(t[0])),t[1],F,{a:'end',n:'km-y-label'}));
  T(g,M.x(633),M.y(642),'TCGA BRCA',8.5,{b:1,n:'km-title-tcga'});
  T(g,M.x(258),M.y(797),'Survival probability',9.5,{rot:-90,n:'km-y-title'});
  T(g,M.x(745),M.y(626),'Riskscore',5.5,{n:'km-legend-title'});
  T(g,M.x(752),M.y(640),'Low',5.5,{c:'#2f7ab8',n:'km-legend-low'});
  T(g,M.x(752),M.y(654),'High',5.5,{c:'#e06060',n:'km-legend-high'});
  T(g,M.x(320),M.y(877),'P=6.3e-6',5.5,{a:'start',n:'km-p-value'});
  T(g,M.x(320),M.y(897),'HR=2.12,95CI%(1.52,2.95)',5.5,{a:'start',n:'km-hazard-ratio'});
  box(315,777,905,958,'risk-table-tcga');
  T(g,M.x(316),M.y(916),'Number at risk',5.5,{a:'start',n:'risk-table-title'});
  T(g,M.x(297),M.y(932),'Low',5.5,{c:'#4a90c8',n:'risk-table-low'});
  T(g,M.x(297),M.y(948),'High',5.5,{c:'#e57373',n:'risk-table-high'});
  kmTableTcga.forEach((row,r)=>row.forEach((c,i)=>T(g,M.x(327+[0,91,185,281,376][i]),M.y(932+16*r),c,5.5,{n:'risk-table-count'})));
  [0,5,10,15,20].forEach(t=>T(g,M.x(tA(t)),M.y(970),t,F,{n:'km-x-label'}));
  T(g,M.x(551),M.y(994),'Survival time',F,{n:'km-x-title'});
  box(322,778,1028,1395,'roc-box-tcga');
  roc(322,780,rocTcgaFpr,[rocTcga3,rocTcga5,rocTcga1],['#3060b0','#80c050','#e05050']);
  T(g,M.x(681),M.y(1305),'TCGA BRCA',8.5,{b:1,n:'roc-title-tcga'});
  rocAucTcga.forEach((s,i)=>{L(g,M.x(510),M.y(1338+20*i),M.x(528),M.y(1338+20*i),['#e05050','#3060b0','#80c050'][i],1.3,'roc-legend-line');T(g,M.x(533),M.y(1338+20*i),s,F,{a:'start',n:'roc-legend-label'});});
  T(g,M.x(258),M.y(1233),'Sensitivities',9.5,{rot:-90,n:'roc-y-title'});
  T(g,M.x(543),M.y(1445),'1-specificities',10,{n:'roc-x-title'});
  /* right column */
  box(955,1422,148,347,'risk-box-gse');
  risk(955,1420,lin(2,6,306,150),riskGseFrac,riskGseScore,.5,'#ee8a4c','#62c4d6',[6,4,2],945);
  T(g,M.x(965),M.y(166),'Riskscore',F,{a:'start',n:'risk-legend-title'});
  T(g,M.x(1195),M.y(166),'GSE20685',8.5,{b:1,n:'risk-title-gse'});
  [[187,'#ee8a4c','Low'],[210,'#62c4d6','High']].forEach(t=>{E(g,'circle',{cx:M.x(975),cy:M.y(t[0]),r:4,fill:t[1]},'risk-legend-dot');T(g,M.x(986),M.y(t[0]),t[2],F,{a:'start',n:'risk-legend-label'});});
  T(g,M.x(895),M.y(242),'Riskscore',9.5,{rot:-90,n:'risk-y-title'});
  T(g,M.x(959),M.y(365),'Survival Status',F,{a:'start',n:'status-legend-title'});
  [[1103,1116,'#1aa54b','Dead'],[1187,1200,'#e6b820','Alive']].forEach(t=>{E(g,'circle',{cx:M.x(t[0]),cy:M.y(365),r:4,fill:t[2]},'status-legend-dot');T(g,M.x(t[1]),M.y(365),t[3],F,{a:'start',n:'status-legend-label'});});
  const yg=lin(0,15,577,382);
  scatter(957,1422,yg,gseAlive,'#e6b820','status-point-alive');
  scatter(957,1422,yg,gseDead,'#1aa54b','status-point-dead');
  box(957,1422,380,580,'status-box-gse');
  [15,10,5,0].forEach(t=>T(g,M.x(945),M.y(yg(t)),t,F+1,{a:'end',n:'status-y-label'}));
  T(g,M.x(900),M.y(482),'Survival time',9.5,{rot:-90,n:'status-y-title'});
  const tB=lin(0,3,968,1064),sB=lin(0,1,889,632);
  km(tB,sB,kmGseLowUp,kmGseLowDn,kmGseLow,'#2f7ab8','low-gse');
  km(tB,sB,kmGseHighUp,kmGseHighDn,kmGseHigh,'#d9534f','high-gse');
  box(960,1423,617,905,'km-box-gse');
  [[1,'1.0'],[.76,'0.8'],[.5,'0.5'],[.26,'0.3'],[0,'0.0']].forEach(t=>T(g,M.x(952),M.y(sB(t[0])),t[1],F,{a:'end',n:'km-y-label'}));
  T(g,M.x(1298),M.y(642),'GSE20685',8.5,{b:1,n:'km-title-gse'});
  T(g,M.x(902),M.y(797),'Survival probability',9.5,{rot:-90,n:'km-y-title'});
  T(g,M.x(1390),M.y(626),'Riskscore',5.5,{n:'km-legend-title'});
  T(g,M.x(1400),M.y(640),'Low',5.5,{c:'#2f7ab8',n:'km-legend-low'});
  T(g,M.x(1400),M.y(654),'High',5.5,{c:'#e06060',n:'km-legend-high'});
  T(g,M.x(966),M.y(877),'P=2.2e-4',5.5,{a:'start',n:'km-p-value'});
  T(g,M.x(966),M.y(897),'HR=2.22,95CI%(1.44,3.42)',5.5,{a:'start',n:'km-hazard-ratio'});
  box(962,1425,905,958,'risk-table-gse');
  T(g,M.x(963),M.y(916),'Number at risk',5.5,{a:'start',n:'risk-table-title'});
  T(g,M.x(947),M.y(931),'Low',5.5,{c:'#4a90c8',n:'risk-table-low'});
  T(g,M.x(947),M.y(947),'High',5.5,{c:'#e57373',n:'risk-table-high'});
  kmTableGse.forEach((row,r)=>row.forEach((c,i)=>T(g,M.x(975+[0,89,185,281,377][i]),M.y(932+16*r),c,5.5,{n:'risk-table-count'})));
  [0,3,6,9,12].forEach(t=>T(g,M.x(tB(t)),M.y(970),t,F,{n:'km-x-label'}));
  T(g,M.x(1206),M.y(989),'Survival time',F,{n:'km-x-title'});
  box(968,1425,1028,1395,'roc-box-gse');
  roc(968,1425,rocGseFpr,[rocGse3,rocGse5,rocGse1],['#3060b0','#80c050','#e05050']);
  T(g,M.x(1338),M.y(1305),'GSE20685',8.5,{b:1,n:'roc-title-gse'});
  rocAucGse.forEach((s,i)=>{L(g,M.x(1153),M.y(1338+20*i),M.x(1172),M.y(1338+20*i),['#e05050','#70c0e0','#80c050'][i],1.3,'roc-legend-line');T(g,M.x(1178),M.y(1338+20*i),s,F,{a:'start',n:'roc-legend-label'});});
  T(g,M.x(901),M.y(1193),'Sensitivities',9.5,{rot:-90,n:'roc-y-title'});
  T(g,M.x(1190),M.y(1445),'1-specificities',10,{n:'roc-x-title'});
})();

/* ===== NOMOGRAM ===== */
(function(){
  const g=$('nomogram');
  const N=Z(60,2.178,1860,2.8);
  const C='#222';
  function ax(yz,scale,ticks,labels,dir,labY,n,lsize){
    const y=N.y(yz);
    const xs=ticks.map(t=>scale(t));
    L(g,Math.min(...xs),y,Math.max(...xs),y,C,2,n+'-line');
    ticks.forEach((t,i)=>{
      L(g,xs[i],y,xs[i],y+dir*6,C,1.6,n+'-tick');
      T(g,xs[i],N.y(labY),labels[i],lsize||12.5,{n:n+'-tick-label'});
    });
  }
  const xPts=lin(0,100,N.x(354),N.x(1287));
  ax(183,xPts,nomoPoints,nomoPoints,-1,145,'points-axis');
  const xAge=lin(25,90,N.x(353),N.x(1285));
  const yAge=d=>N.y(385)-d*107/2.8;
  const agePts=nomoAge.map((a,i)=>[xAge(a),yAge(nomoAgeDensity[i])]);
  E(g,'path',{d:'M'+xAge(25)+' '+N.y(385)+'L'+agePts[0].join(' ')+smoothD(agePts,true)+'L'+xAge(90)+' '+N.y(385)+'Z',fill:'#43afc9'},'age-density');
  ax(385,xAge,nomoAge,nomoAge,1,430,'age-axis',14);
  const xRisk=lin(0,2,N.x(351),N.x(1168));
  const yRisk=d=>N.y(635)-d*106/2.8;
  const riskPts=nomoRiskValues.map((a,i)=>[xRisk(a),yRisk(nomoRiskDensity[i])]);
  E(g,'path',{d:polyD(riskPts)+'Z',fill:'#43afc9'},'riskscore-density');
  ax(635,xRisk,nomoRiskTicks,nomoRiskTickLabels,1,675,'riskscore-axis');
  const xTot=lin(0,180,N.x(362),N.x(1295));
  ax(836,xTot,nomoTotal,nomoTotal,1,875,'total-points-axis');
  const xLin=lin(-1.5,2.5,N.x(344),N.x(1231));
  ax(998,xLin,nomoLinear,nomoLinearLabels,1,1046,'linear-predictor-axis');
  ax(1181,xTot,nomoProb1Points,nomoProb1Labels,1,1221,'probability-1-axis');
  ax(1300,xTot,nomoProb3Points,nomoProb3Labels,1,1340,'probability-3-axis');
  ax(1434,xTot,nomoProb5Points,nomoProb5Labels,1,1476,'probability-5-axis');
  [['Points',261,162,42],['Age',254,400,27],['Riskscore',226,637,66],['Total points',231,840,77],['Linear predictor',214,1009,106],['Probability of 1',220,1203,100],['Probability of 3',221,1323,101],['Probability of 5',220,1451,101]].forEach(t=>{
    T(g,N.x(t[1]),N.y(t[2]),t[0],16,{w:t[3],n:'nomogram-row-label'});
  });
})();

/* ===== VIOLINS ===== */
(function(){
  const g=$('violins');
  const D=Z(780,2.063,1860,2.8);
  function violin(cxz,vals,dens,hwz,y,col,n){
    const cx=D.x(cxz),hw=hwz/2.063;
    const right=vals.map((v,i)=>[cx+dens[i]*hw,y(v)]);
    const left=vals.map((v,i)=>[cx-dens[i]*hw,y(v)]).reverse();
    E(g,'path',{d:smoothD(right)+'L'+left[0][0]+' '+left[0][1]+smoothD(left,true)+'Z',fill:col},'violin-'+n);
  }
  function box(cxz,s,y,fill,outs,n){
    const cx=D.x(cxz),hw=12;
    outs.forEach(v=>E(g,'circle',{cx:cx,cy:y(v),r:2.4,fill:'#b9a68e'},'outlier-'+n));
    L(g,cx,y(s[0]),cx,y(s[4]),'#2a2f38',2.5,'whisker-'+n);
    E(g,'rect',{x:cx-hw,y:y(s[3]),width:hw*2,height:y(s[1])-y(s[3]),fill:fill,stroke:'#333a44','stroke-width':1.8},'box-'+n);
    L(g,cx-hw,y(s[2]),cx+hw,y(s[2]),'#20242c',3.5,'median-'+n);
  }
  const yC=lin(6,5.5,D.y(368),D.y(661)), yD=lin(5.6,5.2,D.y(375),D.y(663.3));
  violin(422,curLowV,curLowD,97,yC,'#9abce0','curcumin-low');
  violin(657,curHighV,curHighD,103,yC,'#d08f88','curcumin-high');
  box(422,curLowBox,yC,'#4a90d9',curLowOut,'curcumin-low');
  box(657,curHighBox,yC,'#c54f3c',curHighOut,'curcumin-high');
  violin(1146,disLowV,disLowD,100,yD,'#9abce0','disulfiram-low');
  violin(1377,disHighV,disHighD,100,yD,'#d08f88','disulfiram-high');
  box(1146,disLowBox,yD,'#4a90d9',disLowOut,'disulfiram-low');
  box(1377,disHighBox,yD,'#c54f3c',disHighOut,'disulfiram-high');
  const axes=(xz,t0,x2,yb)=>{L(g,D.x(xz),D.y(t0),D.x(xz),D.y(yb),'#444',3,'y-axis');L(g,D.x(xz),D.y(yb),D.x(x2),D.y(yb),'#555',3,'x-axis');};
  axes(257,340,815,1412); axes(977,318,1527,1408);
  curTicks.forEach(s=>T(g,D.x(238),yC(+s),s,25,{a:'end',n:'curcumin-y-label',c:'#333'}));
  disTicks.forEach(s=>T(g,D.x(962),yD(+s),s,25,{a:'end',n:'disulfiram-y-label',c:'#333'}));
  T(g,D.x(120),D.y(185),'C',44,{b:1,c:'#111',n:'panel-letter-c'});
  T(g,D.x(820),D.y(185),'D',44,{b:1,c:'#111',n:'panel-letter-d'});
  T(g,D.x(531),D.y(270),'Curcumin',23,{b:1,n:'curcumin-title',w:114});
  T(g,D.x(1262),D.y(270),'Disulfiram',23,{b:1,n:'disulfiram-title',w:120});
  T(g,D.x(535),D.y(378),'***',22,{n:'curcumin-significance',b:1});
  T(g,D.x(1258),D.y(378),'***',22,{n:'disulfiram-significance',b:1});
  [[430,'Low'],[653,'High'],[1138,'Low'],[1372,'High']].forEach(t=>T(g,D.x(t[0]),D.y(1455),t[1],25,{c:'#333',n:'group-label-'+t[1].toLowerCase()}));
  T(g,D.x(118),D.y(865),'log10(Imputed Sensitivity Score)',24.5,{rot:-90,c:'#333',n:'curcumin-y-title'});
  T(g,D.x(845),D.y(850),'log10(Imputed Sensitivity Score)',24.5,{rot:-90,c:'#333',n:'disulfiram-y-title'});
})();

/* ===== PATHWAY ===== */
(function(){
  const g=$('pathway');
  const P=Z(1560,2.272,1860,2.8);
  const x=lin(2,5,P.x(332),P.x(827)), rowY=i=>P.y(240+i*117.2);
  const color=ramp([1.64,1.82,2.2,2.87,3.03,3.11,3.25,5],['#1f55b8','#7b3fa0','#7b3fa0','#a8328c','#d81a66','#d8194f','#e01a30','#e8141c']);
  const size=c=>c*.62;
  pwXTicks.concat([2.5,3.5,4.5]).forEach(v=>L(g,x(v),P.y(168),x(v),P.y(1365),'#d4d4d4',1,'pathway-x-grid','2 2'));
  pwLabels.forEach((lab,i)=>{
    L(g,P.x(252),rowY(i),P.x(835),rowY(i),'#cfcfcf',1.6,'pathway-y-grid','2 2');
    E(g,'circle',{cx:x(pwScore[i]),cy:rowY(i),r:size(pwCount[i]),fill:color(pwScore[i])},'pathway-dot-'+i);
    L(g,P.x(835),rowY(i),P.x(843),rowY(i),'#333',1.5,'pathway-y-tick');
    if(lab.length===1)T(g,P.x(853),rowY(i),lab[0],19.5,{a:'start',n:'pathway-label',c:'#333'});
    else lab.forEach((s,k)=>T(g,P.x(853),rowY(i)+(k?10:-13.5)+ (i===3?0:i===4?-2:i===5?2:i===6?3:8),s,19.5,{a:'start',n:'pathway-label',c:'#333'}));
  });
  E(g,'rect',{x:P.x(252),y:P.y(168),width:583/2.272,height:1197/2.8,fill:'none',stroke:'#111','stroke-width':3.2},'pathway-plot-box');
  pwXTicks.forEach(v=>T(g,x(v),P.y(1410),v,22,{n:'pathway-x-label',c:'#222'}));
  T(g,P.x(520),P.y(112),'Pathway Analysis',22,{n:'pathway-title',c:'#222'});
  T(g,P.x(590),P.y(1470),'EnrichmentScore (\u2212log10(pvalue))',23.5,{w:344,n:'pathway-x-title',c:'#222'});
  T(g,P.x(178),P.y(370),'Count',19,{n:'count-legend-title',c:'#333'});
  R(g,P.x(155),P.y(412),55/2.272,278/2.8,'#f2f2f2','count-legend-background');
  pwLegendCounts.forEach((c,i)=>{
    const yy=P.y([443,517,587,658][i]);
    E(g,'circle',{cx:P.x(i?181:170),cy:yy,r:c*.62,fill:'#000'},'count-legend-dot-'+c);
    T(g,P.x(c<10?108:98),P.y([440,512,585,655][i]),c,19,{n:'count-legend-label',c:'#333'});
  });
  T(g,P.x(178),P.y(800),'p value',19,{n:'p-legend-title',c:'#333'});
  pwLegendP.forEach((s,i)=>T(g,P.x(98),P.y(907+95.5*i),s,19,{n:'p-legend-label',c:'#333'}));
})();

/* ===== IMMUNE ===== */
(function(){
  const g=$('immune');
  const I=Z(60,2.306,2680,2.75);
  const F=9;
  function stacks(x0,x1,y0,y1,by0,by1,props,gaps,n){
    R(g,I.x(x0),I.y(y0),(x1-x0)/2.306,(y1-y0)/2.75,'#ebebeb','stack-strip-'+n);
    R(g,I.x(x0+2),I.y(by0),(x1-x0-4)/2.306,(by1-by0)/2.75,'#fff','stack-base-'+n);
    const total=props.reduce((a,b)=>a+b,0);
    const Y=lin(0,1,I.y(by0),I.y(by1));
    let acc=0;
    props.forEach((p,i)=>{
      const a=Y(acc),b=Y(acc+p/total);
      R(g,I.x(x0+2),a,(x1-x0-4)/2.306,b-a+.4,cellColors[i],'stack-segment-'+n+'-'+i,{'fill-opacity':.58});
      acc+=p/total;
    });
    const X=lin(0,1,I.x(x0),I.x(x1));
    gaps.forEach(f=>L(g,X(f),I.y(by0),X(f),I.y(by1),'#fff',1,'sample-gap-'+n));
  }
  stacks(115,480,150,520,165,505,propHigh,sampleGapsHigh,'high');
  stacks(523,890,153,522,170,508,propLow,sampleGapsLow,'low');
  T(g,I.x(66),I.y(103),'A',20,{b:1,c:'#111',n:'panel-letter-a'});
  T(g,I.x(65),I.y(622),'B',20,{b:1,c:'#111',n:'panel-letter-b'});
  T(g,I.x(706),I.y(94),'Cibersort Results by Group',12.5,{w:120,n:'cibersort-title'});
  T(g,I.x(302),I.y(135),'High',10,{n:'strip-label-high'});
  T(g,I.x(722),I.y(138),'Low',10,{n:'strip-label-low'});
  T(g,I.x(60),I.y(325),'Proportion',11,{rot:-90,n:'proportion-y-title'});
  propTicks.forEach((s,i)=>{
    T(g,I.x(112),I.y(165+84.5*i),s,F,{a:'end',n:'proportion-y-label'});
    T(g,I.x(520),I.y(167+84.5*i),s,F,{a:'end',n:'proportion-y-label'});
  });
  T(g,I.x(1086),I.y(163),'Cell Type',13,{w:40,n:'cell-type-legend-title'});
  cellTypes.forEach((c,i)=>{
    const k=i<11?i:i-11, col=i<11?896:1116, y=I.y(212+k*26.4);
    R(g,I.x(col),y-4.5,7.5,9,cellColors[i],'cell-type-swatch');
    T(g,I.x(col+(i<11?21:19)),y,c,9,{a:'start',c:cellHighlighted.includes(i)?'#ee8a8a':'#333',n:'cell-type-label'});
  });
  T(g,I.x(702),I.y(588),'ssGSEA Results by Group',12.5,{w:117,n:'ssgsea-title'});
  R(g,I.x(690),I.y(629),9.5,5.5,'#e6625a','legend-swatch-high',{stroke:'#333','stroke-width':1});
  T(g,I.x(736),I.y(635),'High',9.5,{n:'legend-label-high'});
  R(g,I.x(788),I.y(629),9,5.5,'#22a8ac','legend-swatch-low',{stroke:'#333','stroke-width':1});
  T(g,I.x(833),I.y(635),'Low',9.5,{n:'legend-label-low'});
  const y=lin(0,.6,I.y(1019),I.y(678)), X=i=>I.x(163+i*43.8);
  ssYTicks.forEach(v=>{T(g,I.x(125),y(v),v.toFixed(1),F,{a:'end',n:'ssgsea-y-label'});L(g,I.x(132),y(v),I.x(138),y(v),'#444',1,'ssgsea-y-tick');});
  L(g,I.x(137),I.y(1278),I.x(1368),I.y(1278),'#555',2.2,'ssgsea-x-axis');
  T(g,I.x(82),I.y(920),'Expression',11.5,{rot:-90,n:'ssgsea-y-title'});
  T(g,I.x(718),I.y(1488),'ssGSEA',11,{n:'ssgsea-x-title'});
  function bp(cx,s,fill,outs,n){
    outs.forEach(v=>E(g,'circle',{cx:cx,cy:y(v),r:1.6,fill:'#111'},'outlier-'+n));
    L(g,cx,y(s[0]),cx,y(s[4]),'#111',1.1,'whisker-'+n);
    E(g,'rect',{x:cx-3.9,y:y(s[3]),width:7.8,height:y(s[1])-y(s[3]),fill:fill,stroke:'#333','stroke-width':.9},'box-'+n);
    L(g,cx-3.9,y(s[2]),cx+3.9,y(s[2]),'#111',1.8,'median-'+n);
  }
  ssCats.forEach((c,i)=>{
    const cx=X(i);
    bp(cx-4.4,ssHigh[i],'#e6625a',ssOutHigh[i],'high-'+i);
    bp(cx+4.4,ssLow[i],'#22a8ac',ssOutLow[i],'low-'+i);
    T(g,cx,I.y(675),ssSig[i],8,{n:'ssgsea-significance'});
    L(g,cx,I.y(1278),cx,I.y(1290),'#444',1,'ssgsea-x-tick');
    T(g,cx+3,I.y(1300),c,9.3,{a:'end',rot:-48,c:ssRed.includes(i)?'#ea7a7a':'#333',n:'ssgsea-category-label'});
  });
})();

/* ===== CORRELATION ===== */
(function(){
  const g=$('correlation');
  const C=Z(760,2.063,2680,2.75);
  const ax=[[125,655,232,660,418,[162,235],[308,383],[190,347,243],258,55,420,185,337,687],[474,648,228,648,780,[515,592],[670,747],[553,710,243],632,443,415,563,715,680],[850,649,226,649,1157,[890,967],[1040,1117],[927,1082,302],1005,807,435,916,1067,680],[1227,649,228,651,1530,[1268,1342],[1417,1492],[1303,1457,297],1385,1175,435,1298,1450,680]];
  tpmTitles.forEach((t,i)=>{
    const a=ax[i], ticks=tpmTickValues[i], top=ticks[ticks.length-1];
    const y=lin(0,top,C.y(a[3]),C.y(a[2]));
    const base=C.y(a[1]);
    T(g,C.x(a[8]),C.y(185),t,17,{w:[106,121,103,104][i],n:'tpm-title-'+i,c:'#222'});
    T(g,C.x(a[9]),C.y(a[10]),'Transcript per million',14.4,{rot:-90,n:'tpm-y-title',c:'#333'});
    L(g,C.x(a[0]),C.y(a[2]),C.x(a[0]),base,'#222',1.4,'tpm-y-axis');
    ticks.forEach(v=>{L(g,C.x(a[0])-3,y(v),C.x(a[0]),y(v),'#222',1,'tpm-y-tick');T(g,C.x(a[0])-5,y(v),v,9,{a:'end',n:'tpm-y-label'});});
    [[tpmNormal[i],a[5],'#4759a8','normal',a[11],'Normal(n=114)',48],[tpmTumor[i],a[6],'#e8350e','tumor',a[12],'Primary tumor(n=1097)',75]].forEach(b=>{
      const s=b[0],x0=C.x(b[1][0]),x1=C.x(b[1][1]),cx=(x0+x1)/2;
      L(g,cx,y(s[2]),cx,y(s[3]),'#222',1.6,'tpm-whisker-'+b[3],s[3]>5*s[2]?'11 4':'');
      L(g,cx-9,y(s[3]),cx+9,y(s[3]),'#222',1.8,'tpm-whisker-cap-'+b[3]);
      R(g,x0,Math.min(y(s[2]),base-1.5),x1-x0,Math.max(base-y(s[2]),1.5),b[2],'tpm-box-'+b[3]);
      if(s[1]>0)L(g,x0,y(s[1]),x1,y(s[1]),'#111',1.8,'tpm-median-'+b[3]);
      T(g,C.x(b[4]),C.y(a[13]),b[5],10,{w:b[6],n:'tpm-x-label'});
    });
    L(g,C.x(a[0]),base,C.x(a[4]),base,'#222',1.6,'tpm-baseline');
    L(g,C.x(a[7][0]),C.y(a[7][2]),C.x(a[7][1]),C.y(a[7][2]),'#222',1.6,'tpm-significance-bar');
    T(g,(C.x(a[7][0])+C.x(a[7][1]))/2,C.y(a[7][2]-13),'***',11,{b:1,n:'tpm-significance'});
  });
  /* subtype chart */
  const y=lin(0,15,C.y(1393),C.y(913));
  const subColors=['#e8655a','#4fb8d0','#1f9e80','#3c5488'];
  const legendColors=['#e64b35','#4dbbd5','#00a087','#3c5488'];
  const subData=[subPax7,subCrisp3,subDcd,subFgg];
  subYTicks.forEach(v=>{
    L(g,C.x(117),y(v),C.x(1397),y(v),'#e6e6e6',1.2,'subtype-gridline');
    L(g,C.x(109),y(v),C.x(117),y(v),'#333',1.2,'subtype-y-tick');
    T(g,C.x(98),y(v),v,15,{n:'subtype-y-label'});
  });
  E(g,'rect',{x:C.x(117),y:C.y(815),width:1280/2.063,height:602/2.75,fill:'none',stroke:'#333','stroke-width':1.5},'subtype-plot-box');
  subGenes.forEach((gene,i)=>{
    const gx=[178,486,793,1100][i];
    subData[i].forEach((s,k)=>{
      const cx=C.x(gx+k*73.3),col=subColors[k];
      L(g,cx,y(s[2]),cx,y(s[3]),col,1.4,'subtype-whisker');
      L(g,cx-7,y(s[3]),cx+7,y(s[3]),col,1.5,'subtype-cap');
      E(g,'rect',{x:cx-14.5,y:y(s[2]),width:29,height:Math.max(y(s[0])-y(s[2]),1),fill:col,'fill-opacity':.5,stroke:col,'stroke-width':1.2},'subtype-box-'+gene);
      L(g,cx-14.5,y(s[1]),cx+14.5,y(s[1]),col,1.6,'subtype-median');
    });
    const bx0=C.x(gx),bx1=C.x(gx+220);
    L(g,bx0,y(subBracket[i]),bx1,y(subBracket[i]),'#111',2,'subtype-significance-bar');
    T(g,(bx0+bx1)/2,y(subBracket[i])-6,subSig[i],9.5,{n:'subtype-significance'});
    T(g,C.x([288,597,902,1211][i]),C.y(1447),gene,13,{w:[24,34,20,20][i],n:'subtype-x-label'});
  });
  T(g,C.x(58),C.y(1130),'Expression level',17.7,{rot:-90,n:'subtype-y-title',c:'#222'});
  T(g,C.x(1427),C.y(828),'Type',13,{w:21,n:'subtype-legend-title'});
  subTypes.forEach((s,i)=>{
    const yy=C.y([872,920,967,1016][i]);
    E(g,'circle',{cx:C.x(1414),cy:yy,r:4.2,fill:legendColors[i]},'subtype-legend-dot');
    T(g,C.x(1425),yy+1,s,10,{a:'start',w:[45,32,32,20][i],n:'subtype-legend-label'});
  });
})();

/* ===== EXPERIMENT ===== */
(function(){
  const g=$('experiment');
  const X=Z(1540,2.208,2680,2.75);
  function micro(xz,yz,wz,hz,edges,base,dark,scratch,n){
    const x=X.x(xz),y=X.y(yz),w=wz/2.208,h=hz/2.75;
    R(g,x,y,w,h,base,'micrograph-'+n);
    R(g,x,y,w*edges[0]/100,h,dark,'micrograph-left-'+n);
    R(g,x,y,w,h,'#000','micrograph-texture-'+n,{filter:'url(#cells)'});
    R(g,x+w*edges[0]/100,y,w*(edges[1]-edges[0])/100,h,scratch,'wound-gap-'+n);
    L(g,x+w*edges[0]/100,y,x+w*edges[0]/100,y+h,'#e4141c',2,'wound-edge-left-'+n);
    L(g,x+w*edges[1]/100,y,x+w*edges[1]/100,y+h,'#e4141c',2,'wound-edge-right-'+n);
  }
  const cols231=[291,461,631,801], cols468=[293,462,631,801];
  wound231.forEach((row,r)=>row.forEach((e,c)=>micro(cols231[c],r?423:242,165,174,e,'#cfcfe8','#b6b4d2','#7f7b9b','231-'+r+'-'+c)));
  wound468.forEach((row,r)=>row.forEach((e,c)=>micro(cols468[c],r?1133:955,165,173,e,'#cdd5ee','#aeb6d4','#5c6088','468-'+r+'-'+c)));
  R(g,X.x(300),X.y(573),6,2,'#222','scale-bar-231');
  R(g,X.x(300),X.y(1286),6,2,'#222','scale-bar-468');
  T(g,X.x(625),X.y(197),'MDA-MB-231',18,{w:81,n:'cell-line-231',c:'#222'});
  T(g,X.x(630),X.y(907),'MDA-MB-468',18,{w:81,n:'cell-line-468',c:'#222'});
  [[335,'0h'],[517,'24h'],[1050,'0h'],[1232,'24h']].forEach(t=>T(g,X.x(255),X.y(t[0]),t[1],18,{n:'time-label-'+t[1],w:t[1]==='0h'?15:22,c:'#222'}));
  function table(ys){
    [[332,'Hypoxia',48,migHypoxia],[358,'shRNA CRISP3-1',106,migSh1],[360,'shRNA CRISP3-2',107,migSh2]].forEach((r,i)=>{
      T(g,X.x(r[0]),X.y(ys[i]),r[1],17,{a:'end',w:r[2],n:'treatment-label',c:'#222'});
      r[3].forEach((s,k)=>T(g,X.x([375,544,712,880][k]),X.y(ys[i]),s,16,{n:'treatment-sign',c:'#222'}));
    });
  }
  table([650,695,740]); table([1362,1407,1451]);
  [[620,'+'],[665,'-'],[708,'+']].forEach(t=>T(g,X.x(99),X.y(t[0]),t[1],15,{n:'stray-sign',c:'#222'}));
  L(g,X.x(88),X.y(577),X.x(120),X.y(577),'#888',1,'stray-line');
  const colors=['#e8968e','#fbd5a8','#b8d4e6','#c8c4e0'];
  function legend(ys){
    migGroups.forEach((s,i)=>{
      R(g,X.x(990),X.y(ys[i]),15,12.6,colors[i],'migration-legend-swatch');
      T(g,X.x(1032),X.y(ys[i]+17),s,17,{a:'start',w:[24,48,162,163][i],n:'migration-legend-label',c:'#222'});
    });
  }
  legend([81,132,185,237]); legend([781,834,886,938]);
  function bars(x0,x1,cxs,yScale,ticks,means,points,baseZ,sig,axisX,titleY){
    const y=v=>X.y(yScale(v));
    means.forEach((m,i)=>{
      const cx=X.x(cxs[i]);
      R(g,cx-10,y(m),20,X.y(baseZ)-y(m),colors[i],'migration-bar-'+i);
      const pts=points[i],hi=Math.max(...pts),lo=Math.min(...pts);
      L(g,cx,y(hi),cx,y(lo),'#111',1.8,'migration-error-bar');
      L(g,cx-5,y(hi),cx+5,y(hi),'#111',1.8,'migration-error-cap');
      L(g,cx-5,y(lo),cx+5,y(lo),'#111',1.8,'migration-error-cap');
      pts.forEach((v,k)=>E(g,'circle',{cx:cx+[-1,5,-5][k],cy:y(v),r:3,fill:'#111'},'migration-point'));
    });
    L(g,X.x(axisX),y(ticks[ticks.length-1]),X.x(axisX),X.y(baseZ),'#111',2,'migration-y-axis');
    L(g,X.x(x0),X.y(baseZ),X.x(x1),X.y(baseZ),'#111',2,'migration-x-axis');
    cxs.forEach(c=>L(g,X.x(c),X.y(baseZ),X.x(c),X.y(baseZ+14),'#111',1.8,'migration-x-tick'));
    ticks.forEach(v=>{
      L(g,X.x(axisX)-5,y(v),X.x(axisX),y(v),'#111',1.8,'migration-y-tick');
      T(g,X.x(axisX)-7,y(v),v,16,{a:'end',w:v?16:8,n:'migration-y-label',c:'#222'});
    });
    sig.forEach(s=>{
      L(g,X.x(s[0]),X.y(s[2]),X.x(s[1]),X.y(s[2]),'#111',2,'migration-significance-bar');
      T(g,X.x((s[0]+s[1])/2),X.y(s[2]-12),'***',11,{b:1,n:'migration-significance'});
    });
    T(g,X.x(1000),X.y(titleY),'Relative migration',16,{rot:-90,n:'migration-y-title',c:'#222'});
    T(g,X.x(1040),X.y(titleY),'rate(%)',16,{rot:-90,n:'migration-y-title',c:'#222'});
  }
  bars(1098,1382,[1149,1213,1275,1339],lin(0,60,750,342),[0,20,40,60],mig231Mean,mig231Points,749,[[1152,1210,363],[1218,1273,363],[1218,1342,322]],1108,545);
  bars(1100,1387,[1152,1216,1280,1344],lin(0,40,1447,1041),[0,10,20,30,40],mig468Mean,mig468Points,1446,[[1155,1212,1055],[1220,1276,1053],[1220,1345,1016]],1110,1245);
})();
</script>
</body>
</html>
